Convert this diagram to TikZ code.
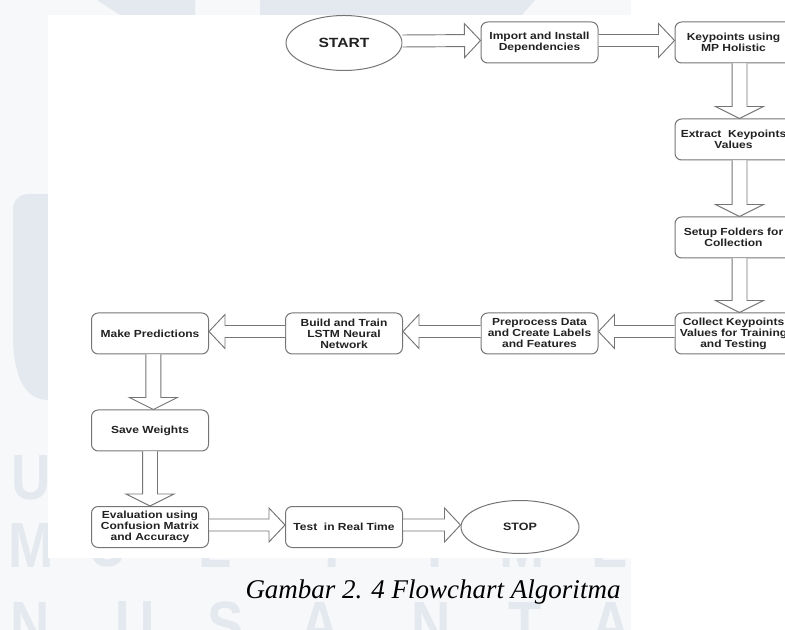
\documentclass[tikz,border=0pt]{standalone}
\usepackage{fontspec}
\usepackage{tikz}
\usetikzlibrary{calc,shapes.geometric}

\newfontfamily\boxfont{Liberation Sans}[FakeStretch=1.17]
\newfontfamily\capfont{Liberation Serif}
\newfontfamily\wmfont{Liberation Sans}[FakeStretch=0.85]

\definecolor{bandgray}{HTML}{F7F8FA}
\definecolor{wmblue}{HTML}{E4E8EF}
\definecolor{linegray}{HTML}{757575}
\definecolor{textgray}{HTML}{222222}

\begin{document}
\begin{tikzpicture}[x=0.75pt,y=-0.75pt,
  box/.style={draw=linegray, line width=0.75pt, rounded corners=5pt,
    minimum width=87.75pt, minimum height=30.75pt, inner sep=1pt,
    align=center, text=textgray,
    font=\boxfont\bfseries\fontsize{7.7pt}{8.25pt}\selectfont},
  term/.style={ellipse, draw=linegray, line width=0.75pt, inner sep=0pt,
    text=textgray},
  blockarrow/.style n args={3}{% shaft half width, head half width, head length
    draw=linegray, fill=white, line width=0.7pt, line join=miter,
    to path={
      ($(\tikztostart)!#1!90:(\tikztotarget)$)
      -- ($(\tikztotarget)!#3!(\tikztostart)!#1!-90:(\tikztostart)$)
      -- ($(\tikztotarget)!#3!(\tikztostart)!#2!-90:(\tikztostart)$)
      -- (\tikztotarget)
      -- ($(\tikztotarget)!#3!(\tikztostart)!#2!90:(\tikztostart)$)
      -- ($(\tikztotarget)!#3!(\tikztostart)!#1!90:(\tikztostart)$)
      -- ($(\tikztostart)!#1!-90:(\tikztotarget)$)}},
  harrow/.style={blockarrow={4.5pt}{12.75pt}{12pt}},
  varrow/.style={blockarrow={5.6pt}{18pt}{9pt}},
  wmletter/.style={inner sep=0pt, text=wmblue,
    font=\wmfont\bfseries\fontsize{48pt}{48pt}\selectfont}]
\useasboundingbox (0,0) rectangle (785,630);
\clip (0,0) rectangle (785,630);

% watermark behind the sheet
\fill[bandgray] (0,0) rectangle (631,630);
\fill[wmblue] (97,0) -- (195,0) -- (195,15) -- (120,15) -- cycle;
\fill[wmblue] (260,0) -- (535,0) -- (522,15) -- (260,15) -- cycle;
\fill[wmblue] (60,194) -- (28,194) to[out=180,in=90] (13,209) -- (13,335)
  to[out=-90,in=180] (48,400) -- (60,400) -- cycle;
\node[wmletter] (wmu) at (31,478) {U};
\foreach \c/\x [count=\i] in {M/31,U/108,L/215,T/332,I/435,M/522,E/610}
  \node[wmletter] (mid\i) at (\x,545) {\c};
\foreach \c/\x [count=\i] in {N/30,U/135,S/226,A/320,N/431,T/525,A/611}
  \node[wmletter] (nus\i) at (\x,624) {\c};

% the sheet
\fill[white] (48,15) rectangle (785,558);

% first row
\node[term, minimum width=87pt, minimum height=41.25pt,
  font=\boxfont\bfseries\fontsize{10pt}{12pt}\selectfont] (start) at (344,43) {START};
\node[box] (imp) at (539.5,42.5) {Import and Install\\Dependencies};
\node[box] (kp) at (733.5,42.5) {Keypoints using\\MP Holistic};

% right column
\node[box] (ext) at (733.5,139.5) {Extract\ \ Keypoints\\Values};
\node[box] (setup) at (733.5,237.5) {Setup Folders for\\Collection};
\node[box] (coll) at (733.5,333.5) {Collect Keypoints\\Values for Training\\and Testing};

% middle row
\node[box] (prep) at (539.5,333.5) {Preprocess Data\\and Create Labels\\and Features};
\node[box] (build) at (344,333.5) {Build and Train\\LSTM Neural\\Network};
\node[box] (pred) at (150,333.5) {Make Predictions};

% left column and last row
\node[box] (save) at (150,430.5) {Save Weights};
\node[box] (eval) at (150,527) {Evaluation using\\Confusion Matrix\\and Accuracy};
\node[box] (test) at (344,527) {Test\ \ in Real Time};
\node[term, minimum width=88.5pt, minimum height=39.75pt,
  font=\boxfont\bfseries\fontsize{8pt}{10pt}\selectfont] (stop) at (520,527) {STOP};

% block arrows
\draw[harrow] ([yshift=1.5pt]start.east) to ([yshift=1.5pt]imp.west);
\draw[harrow] ([yshift=1.5pt]imp.east) to ([yshift=1.5pt]kp.west);
\draw[varrow] ([xshift=4.5pt]kp.south) to ([xshift=4.5pt]ext.north);
\draw[varrow] ([xshift=4.5pt]ext.south) to ([xshift=4.5pt]setup.north);
\draw[varrow] ([xshift=4.5pt]setup.south) to ([xshift=4.5pt]coll.north);
\draw[harrow] ([yshift=1.5pt]coll.west) to ([yshift=1.5pt]prep.east);
\draw[harrow] ([yshift=1.5pt]prep.west) to ([yshift=1.5pt]build.east);
\draw[harrow] ([yshift=1.5pt]build.west) to ([yshift=1.5pt]pred.east);
\draw[varrow] ([xshift=2.5pt]pred.south) to ([xshift=2.5pt]save.north);
\draw[varrow] (save.south) to (eval.north);
\draw[harrow] ([yshift=1.5pt]eval.east) to ([yshift=1.5pt]test.west);
\draw[harrow] ([yshift=1.5pt]test.east) to ([yshift=1.5pt]stop.west);

% caption
\node[anchor=base, inner sep=0pt,
  font=\capfont\itshape\fontsize{20.25pt}{24pt}\selectfont] (caption)
  at (433,598) {Gambar 2. 4 Flowchart Algoritma};
\end{tikzpicture}
\end{document}
